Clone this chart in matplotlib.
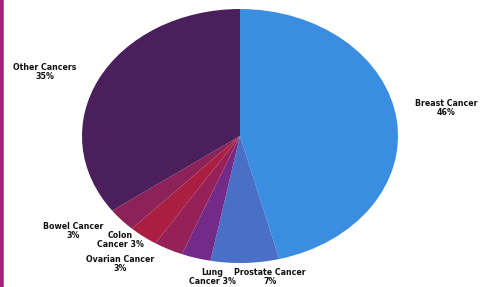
import matplotlib
matplotlib.use("Agg")
import matplotlib.pyplot as plt
from matplotlib.patches import Rectangle

categories = ["Breast Cancer", "Prostate Cancer", "Lung\nCancer", "Ovarian Cancer",
              "Colon\nCancer", "Bowel Cancer", "Other Cancers"]
values = [46, 7, 3, 3, 3, 3, 35]
label_texts = ["Breast Cancer\n46%", "Prostate Cancer\n7%", "Lung\nCancer 3%",
               "Ovarian Cancer\n3%", "Colon\nCancer 3%", "Bowel Cancer\n3%",
               "Other Cancers\n35%"]
colors = ["#3a8de0", "#4a6fc6", "#742a88", "#962058", "#aa1e42", "#8c2258", "#4b1f5c"]

W, H = 481, 287
fig = plt.figure(figsize=(W / 100, H / 100), dpi=100)
fig.patch.set_facecolor("white")

cx, cy, rx, ry = 240, 136, 158, 127
ax = fig.add_axes([(cx - rx) / W, (H - cy - ry) / H, 2 * rx / W, 2 * ry / H])
wedges, _ = ax.pie(values, colors=colors, startangle=90, counterclock=False,
                   wedgeprops=dict(linewidth=0))
ax.set_aspect("auto")
ax.set_xlim(-1, 1)
ax.set_ylim(-1, 1)
ax.axis("off")

# label positions in pixels (centre of text block)
label_px = [(446, 108), (270, 277), (212, 277), (120, 264), (120, 240), (73, 231), (45, 72)]
for txt, (px, py) in zip(label_texts, label_px):
    ax.text((px - cx) / rx, (cy - py) / ry, txt, ha="center", va="center",
            fontsize=5.7, fontweight="bold", color="#111111", clip_on=False,
            linespacing=1.1)

# left border stripe
fig.add_artist(Rectangle((0, 0), 2.5 / W, 1, transform=fig.transFigure,
                         facecolor="#a0207a", edgecolor="none"))
fig.add_artist(Rectangle((2.5 / W, 0), 1.2 / W, 1, transform=fig.transFigure,
                         facecolor="#5080d0", edgecolor="none"))

fig.savefig("out.png", dpi=100)
